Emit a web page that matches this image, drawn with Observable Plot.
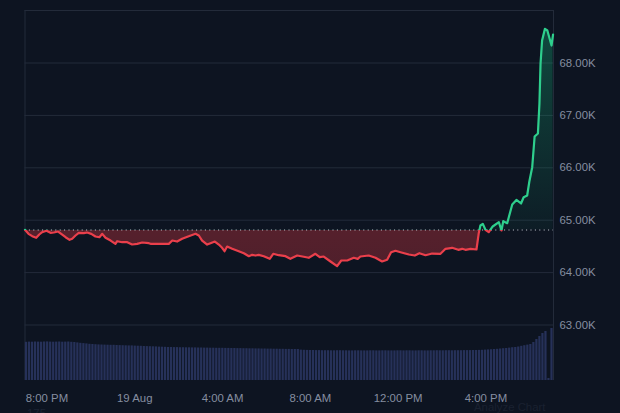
<!DOCTYPE html>
<html>
<head>
<meta charset="utf-8">
<script src="https://cdn.jsdelivr.net/npm/d3@7"></script>
<script src="https://cdn.jsdelivr.net/npm/@observablehq/plot@0.6"></script>
<style>
html,body{margin:0;padding:0;background:#0d1421;overflow:hidden}
svg{display:block}
</style>
</head>
<body>
<div id="chart"></div>
<script>
// hours after 7 PM
const hours = [0,.16,.33,.51,.65,.78,.98,1.16,1.31,1.51,1.65,1.85,2.03,2.15,2.30,2.45,2.68,2.83,3.02,3.21,3.39,3.52,3.67,3.90,4.12,4.20,4.43,4.66,4.88,5.11,5.34,5.64,5.72,6.17,6.55,6.71,6.93,7.16,7.46,7.77,7.92,8.07,8.30,8.45,8.65,8.83,8.98,9.09,9.21,9.44,9.74,9.97,10.20,10.35,10.50,10.65,10.88,11.15,11.31,11.56,11.87,12.09,12.40,12.70,12.93,13.23,13.43,13.61,13.92,14.22,14.41,14.68,14.98,15.16,15.28,15.66,15.97,16.27,16.50,16.68,16.88,17.11,17.49,17.76,17.97,18.25,18.55,18.93,19.16,19.46,19.74,19.92,20.07,20.30,20.57,20.67,20.75,20.86,20.98,21.13,21.31,21.59,21.71,21.79,21.97,22.20,22.39,22.60,22.72,22.88,22.98,23.11,23.22,23.37,23.44,23.49,23.56,23.69,23.80,23.99,24.06];
const prices = [64817,64740,64695,64664,64727,64771,64798,64760,64765,64784,64740,64675,64626,64645,64708,64760,64752,64765,64740,64689,64675,64740,64664,64612,64549,64599,64580,64580,64536,64549,64574,64561,64549,64549,64549,64612,64593,64645,64695,64740,64708,64612,64536,64561,64593,64536,64473,64408,64498,64454,64408,64370,64313,64339,64326,64339,64313,64263,64359,64332,64313,64263,64326,64302,64283,64359,64294,64307,64212,64122,64231,64231,64283,64263,64307,64326,64283,64212,64244,64389,64416,64389,64345,64326,64370,64332,64364,64359,64454,64473,64435,64454,64435,64454,64441,64740,64899,64931,64817,64771,64880,64962,64804,64981,64943,65300,65386,65319,65439,65471,65739,66012,66597,66655,67227,67990,68430,68652,68620,68334,68544];
const basePrice = 64813;
// traded volume per bar, in billions
const volumes = [
38.2,38.4,38.3,38.5,38.4,38.3,38.5,38.6,38.4,38.3,38.4,38.5,38.3,38.4,38.5,38.2,38.0,
37.6,37.2,36.9,36.6,36.2,36.0,35.8,35.6,
35.5,35.4,35.3,35.2,35.2,35.0,34.9,34.8,34.7,34.6,34.6,34.4,34.3,34.2,34.0,33.9,33.8,33.7,33.6,33.4,33.3,33.2,33.0,
33.0,32.9,32.9,32.8,32.8,32.7,32.7,32.6,32.6,32.5,32.5,32.4,32.4,32.3,32.3,32.2,32.2,32.2,32.1,32.1,32.0,32.0,31.9,31.9,31.8,31.8,31.7,31.7,31.6,31.6,31.5,31.5,31.4,31.4,31.3,31.3,31.2,31.2,31.1,31.1,31.0,31.0,31.0,
30.4,30.2,30.1,30.0,30.0,29.9,29.9,29.8,29.8,29.8,29.7,29.7,29.8,29.8,29.7,29.7,29.6,29.6,29.7,29.7,29.6,29.6,29.6,29.7,29.7,29.6,29.6,29.7,29.7,29.6,29.6,29.6,29.7,29.7,29.6,29.7,29.7,29.6,29.6,29.7,29.7,29.6,29.6,29.7,29.7,29.8,29.7,29.7,29.8,29.8,29.7,29.8,29.8,29.8,29.9,29.9,29.9,30.0,30.0,30.1,
30.2,30.4,30.6,30.8,31.0,31.2,31.5,31.8,32.0,32.4,32.8,33.0,
33.5,34.2,34.8,35.4,36.0,
38.0,41.0,44.0,
47.0,49.0,2.0,52.0
];
const hourStep = 24.08 / volumes.length;
const volumeToPrice = 19.084;
const priceMin = 61941, priceMax = 69002;

const priceTicks = [63000,64000,65000,66000,67000,68000];
const timeTicks = [1,5,9,13,17,21];
const timeLabels = ["8:00 PM","19 Aug","4:00 AM","8:00 AM","12:00 PM","4:00 PM"];

const series = hours.map((h,i)=>({h,p:prices[i]}));
const bars = volumes.map((v,i)=>({h1:i*hourStep,h2:(i+1)*hourStep,v}));

const gridColor = "#232b3a";
const labelFont = "'Liberation Sans', Arial, sans-serif";

const chart = Plot.plot({
  width:620, height:413,
  marginLeft:24.5, marginRight:67, marginTop:10, marginBottom:33,
  style:{background:"#0d1421",fontFamily:labelFont},
  x:{domain:[0,24.08],axis:null},
  y:{domain:[priceMin,priceMax],axis:null},
  marks:[
    Plot.ruleY(priceTicks.concat([priceMax]),{stroke:gridColor,strokeWidth:1}),
    Plot.ruleX([0,24.08],{stroke:gridColor,strokeWidth:1}),
    Plot.rectY(bars,{x1:"h1",x2:"h2",y1:priceMin,y2:d=>priceMin+d.v*volumeToPrice,fill:"#263159",insetLeft:0.4,insetRight:0.4}),
    Plot.areaY(series,{x:"h",y1:basePrice,y2:"p",fill:"url(#areaFill)"}),
    Plot.ruleY([basePrice],{stroke:"#c9ced6",strokeWidth:1,strokeDasharray:"1,3.4"}),
    Plot.line(series,{x:"h",y:"p",stroke:"url(#lineStroke)",strokeWidth:2.2,strokeLinejoin:"round"}),
    Plot.axisY(priceTicks,{anchor:"right",label:null,tickSize:0,tickPadding:6,fill:"#858ea0",fontSize:11.4,
      tickFormat:d=>(d/1000).toFixed(2)+"K"}),
    Plot.axisX(timeTicks,{anchor:"bottom",label:null,tickSize:0,tickPadding:13,fill:"#858ea0",fontSize:11.4,
      tickFormat:d=>timeLabels[timeTicks.indexOf(d)]}),
    Plot.text(["175"],{frameAnchor:"bottom-left",dx:2,dy:36,fill:"#1c2333",fontSize:11.4,textAnchor:"start"}),
    Plot.text(["Analyze Chart"],{frameAnchor:"bottom-right",dx:-8,dy:30,fill:"#1a2130",fontSize:11.4,textAnchor:"end"})
  ]
});

const yAt = chart.scale("y").apply;
const yb = yAt(basePrice);
const defs = d3.select(chart).insert("defs",":first-child");
function grad(id,y1,y2,stops){
  const g = defs.append("linearGradient").attr("id",id).attr("gradientUnits","userSpaceOnUse")
    .attr("x1",0).attr("x2",0).attr("y1",y1).attr("y2",y2);
  stops.forEach(([o,c,a])=>g.append("stop").attr("offset",o).attr("stop-color",c).attr("stop-opacity",a));
}
const gradTop = yAt(68700), gradBot = yAt(64100);
const f = (yb-gradTop)/(gradBot-gradTop);
grad("areaFill",gradTop,gradBot,[[0,"#16c784",0.3],[f,"#16c784",0.05],[f,"#ea3943",0.33],[1,"#ea3943",0.3]]);
grad("lineStroke",gradTop,gradBot,[[0,"#2ecf8d",1],[f,"#2ecf8d",1],[f,"#ea3f4b",1],[1,"#ea3f4b",1]]);
document.getElementById("chart").append(chart);
</script>
</body>
</html>
